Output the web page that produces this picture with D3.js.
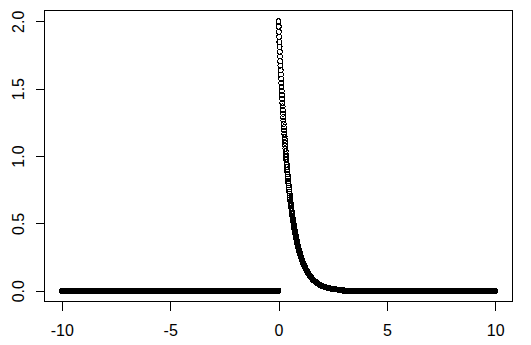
<!DOCTYPE html>
<html>
<head>
  <meta charset="utf-8">
  <title>dexp</title>
  <script src="https://d3js.org/d3.v7.min.js"></script>
  <style>
    body { margin: 0; background: #fff; }
    .pontos circle {
      fill: none;
      stroke: #000;
      stroke-width: 1;
      shape-rendering: crispEdges;
    }
    .eixo line { stroke: #000; shape-rendering: crispEdges; }
    .eixo text { font-family: "Liberation Sans", Arial, sans-serif; font-size: 16px; fill: #000; }
  </style>
</head>
<body>
<div id="grafico"></div>

<script type="text/javascript">
"use strict"

// x sample grid: -10 .. 10 every 0.01
var xInicio = -10, xFim = 10, xPasso = 0.01;

// y for x = 0.00, 0.01, ... 2.99 (one value per step)
var yCurva = [
  2.000,1.960,1.922,1.884,1.846,1.810,1.774,1.739,1.704,1.671,
  1.637,1.605,1.573,1.542,1.512,1.482,1.452,1.424,1.395,1.368,
  1.341,1.314,1.288,1.263,1.238,1.213,1.189,1.165,1.142,1.120,
  1.098,1.076,1.055,1.034,1.013,0.993,0.974,0.954,0.935,0.917,
  0.899,0.881,0.863,0.846,0.830,0.813,0.797,0.781,0.766,0.751,
  0.736,0.721,0.707,0.693,0.679,0.666,0.653,0.640,0.627,0.615,
  0.602,0.590,0.579,0.567,0.556,0.545,0.534,0.524,0.513,0.503,
  0.493,0.483,0.474,0.464,0.455,0.446,0.437,0.429,0.420,0.412,
  0.404,0.396,0.388,0.380,0.373,0.365,0.358,0.351,0.344,0.337,
  0.331,0.324,0.318,0.311,0.305,0.299,0.293,0.287,0.282,0.276,
  0.271,0.265,0.260,0.255,0.250,0.245,0.240,0.235,0.231,0.226,
  0.222,0.217,0.213,0.209,0.205,0.201,0.197,0.193,0.189,0.185,
  0.181,0.178,0.174,0.171,0.167,0.164,0.161,0.158,0.155,0.152,
  0.149,0.146,0.143,0.140,0.137,0.134,0.132,0.129,0.127,0.124,
  0.122,0.119,0.117,0.115,0.112,0.110,0.108,0.106,0.104,0.102,
  0.100,0.098,0.096,0.094,0.092,0.090,0.088,0.087,0.085,0.083,
  0.082,0.080,0.078,0.077,0.075,0.074,0.072,0.071,0.069,0.068,
  0.067,0.065,0.064,0.063,0.062,0.060,0.059,0.058,0.057,0.056,
  0.055,0.054,0.053,0.051,0.050,0.049,0.048,0.048,0.047,0.046,
  0.045,0.044,0.043,0.042,0.041,0.040,0.040,0.039,0.038,0.037,
  0.037,0.036,0.035,0.034,0.034,0.033,0.032,0.032,0.031,0.031,
  0.030,0.029,0.029,0.028,0.028,0.027,0.027,0.026,0.026,0.025,
  0.025,0.024,0.024,0.023,0.023,0.022,0.022,0.021,0.021,0.021,
  0.020,0.020,0.019,0.019,0.019,0.018,0.018,0.017,0.017,0.017,
  0.016,0.016,0.016,0.016,0.015,0.015,0.015,0.014,0.014,0.014,
  0.013,0.013,0.013,0.013,0.012,0.012,0.012,0.012,0.011,0.011,
  0.011,0.011,0.011,0.010,0.010,0.010,0.010,0.010,0.009,0.009,
  0.009,0.009,0.009,0.009,0.008,0.008,0.008,0.008,0.008,0.008,
  0.007,0.007,0.007,0.007,0.007,0.007,0.007,0.006,0.006,0.006,
  0.006,0.006,0.006,0.006,0.006,0.005,0.005,0.005,0.005,0.005
];
// everything left of 0 and right of the list sits on zero
var yPlano = 0;

var xTicks = [-10, -5, 0, 5, 10];
var xTickLabels = ["-10", "-5", "0", "5", "10"];
var yTicks = [0, 0.5, 1, 1.5, 2];
var yTickLabels = ["0.0", "0.5", "1.0", "1.5", "2.0"];

// build the point list from the grid
var nPontos = Math.round((xFim - xInicio) / xPasso) + 1;
var iZero = Math.round((0 - xInicio) / xPasso);
var dados = d3.range(nPontos).map(function(i) {
  var k = i - iZero;
  var yv = (k >= 0 && k < yCurva.length) ? yCurva[k] : yPlano;
  return { x: xInicio + i * xPasso, y: yv };
});

var larguraSVG = 531, alturaSVG = 345;
var caixa = { left: 44.5, right: 512.5, top: 10.5, bottom: 301.5 };

// R style: 4% padding on both axes
var x = d3.scaleLinear().domain([-10.8, 10.8]).range([caixa.left, caixa.right]);
var y = d3.scaleLinear().domain([-0.08, 2.08]).range([caixa.bottom, caixa.top]);

var svg = d3.select("#grafico")
  .append("svg")
  .attr("width", larguraSVG)
  .attr("height", alturaSVG);

svg.append("g")
  .attr("class", "pontos")
  .selectAll("circle")
  .data(dados)
  .enter()
  .append("circle")
  .attr("cx", d => x(d.x))
  .attr("cy", d => y(d.y))
  .attr("r", 2.5);

// box round the plot
svg.append("rect")
  .attr("x", caixa.left)
  .attr("y", caixa.top)
  .attr("width", caixa.right - caixa.left)
  .attr("height", caixa.bottom - caixa.top)
  .attr("fill", "none")
  .attr("stroke", "#000")
  .attr("stroke-width", 1)
  .attr("shape-rendering", "crispEdges");

var eixoX = svg.append("g")
  .attr("class", "eixo")
  .attr("transform", "translate(0," + caixa.bottom + ")")
  .call(d3.axisBottom(x).tickValues(xTicks).tickFormat((d, i) => xTickLabels[i]).tickSize(9).tickSizeOuter(0));
eixoX.attr("font-size", null).attr("font-family", null);
eixoX.select(".domain").remove();
eixoX.selectAll("text").attr("y", 34.5).attr("dy", null);

var eixoY = svg.append("g")
  .attr("class", "eixo")
  .attr("transform", "translate(" + caixa.left + ",0)")
  .call(d3.axisLeft(y).tickValues(yTicks).tickFormat((d, i) => yTickLabels[i]).tickSize(9).tickSizeOuter(0));
eixoY.attr("font-size", null).attr("font-family", null);
eixoY.select(".domain").remove();
eixoY.selectAll("text")
  .attr("x", 0)
  .attr("y", -21)
  .attr("dy", null)
  .attr("text-anchor", "middle")
  .attr("transform", "rotate(-90)");
</script>
</body>
</html>
